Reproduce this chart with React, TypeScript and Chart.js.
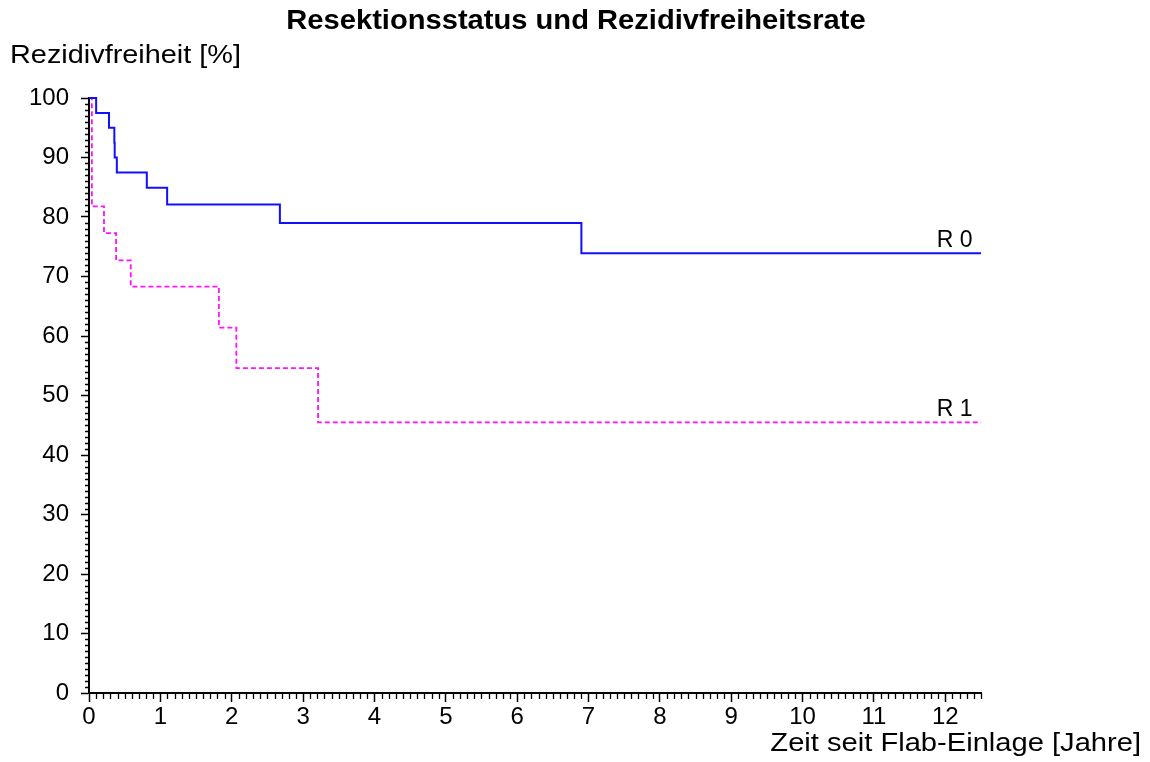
import { useEffect, useRef } from 'react';
import { Chart, registerables } from 'chart.js';

Chart.register(...registerables);

// Texts
const chartTitle = 'Resektionsstatus und Rezidivfreiheitsrate';
const yAxisTitle = 'Rezidivfreiheit [%]';
const xAxisTitle = 'Zeit seit Flab-Einlage [Jahre]';
const seriesNames = ['R 0', 'R 1'];

// Kaplan-Meier steps: event time (years) and recurrence-free rate (%) after the event
const r0Years = [0, 0.1, 0.28, 0.355, 0.36, 0.39, 0.81, 1.095, 2.675, 6.9, 12.5];
const r0Percent = [100, 97.5, 95, 92.5, 90, 87.5, 84.9, 82.1, 79.0, 73.9, 73.9];
const r1Years = [0, 0.04, 0.21, 0.38, 0.585, 1.82, 2.065, 3.21, 12.5];
const r1Percent = [100, 81.8, 77.3, 72.7, 68.3, 61.4, 54.6, 45.5, 45.5];

// Axis ranges and tick spacing
const xMax = 12.5;
const yMax = 100;
const xMajorStep = 1;
const xMinorStep = 0.1;
const yMajorStep = 10;
const yMinorStep = 1;
// where the curve names sit (year)
const seriesLabelYear = 11.88;

const FONT = '"Liberation Sans", Arial, Helvetica, sans-serif';

function drawText(
  ctx: CanvasRenderingContext2D,
  text: string,
  x: number,
  y: number,
  font: string,
  stretch: number,
  align: 'left' | 'center' | 'right'
) {
  ctx.save();
  ctx.font = font;
  ctx.textAlign = 'left';
  ctx.textBaseline = 'alphabetic';
  ctx.fillStyle = '#000';
  const w = ctx.measureText(text).width * stretch;
  let left = x;
  if (align === 'center') left = x - w / 2;
  if (align === 'right') left = x - w;
  ctx.translate(left, y);
  ctx.scale(stretch, 1);
  ctx.fillText(text, 0, 0);
  ctx.restore();
}

const decorPlugin = {
  id: 'kmDecor',
  afterDraw(chart: any) {
    const { ctx } = chart;
    const xs = chart.scales.x;
    const ys = chart.scales.y;
    ctx.save();
    ctx.strokeStyle = '#000';
    ctx.lineWidth = 1.3;
    ctx.beginPath();
    // minor ticks on the time axis
    const nx = Math.round(xMax / xMinorStep);
    const perMajorX = Math.round(xMajorStep / xMinorStep);
    for (let i = 1; i <= nx; i++) {
      if (i % perMajorX === 0) continue;
      const px = Math.round(xs.getPixelForValue(i * xMinorStep)) + 0.5;
      ctx.moveTo(px, ys.bottom);
      ctx.lineTo(px, ys.bottom + 6);
    }
    // minor ticks on the rate axis
    const ny = Math.round(yMax / yMinorStep);
    const perMajorY = Math.round(yMajorStep / yMinorStep);
    for (let i = 1; i < ny; i++) {
      if (i % perMajorY === 0) continue;
      const py = Math.round(ys.getPixelForValue(i * yMinorStep)) + 0.5;
      ctx.moveTo(xs.left - 4, py);
      ctx.lineTo(xs.left, py);
    }
    ctx.stroke();
    ctx.restore();

    // titles
    drawText(ctx, chartTitle, 576, 29, `bold 28px ${FONT}`, 1.04, 'center');
    drawText(ctx, yAxisTitle, 10, 63, `26px ${FONT}`, 1.11, 'left');
    drawText(ctx, xAxisTitle, 1141, 751, `26px ${FONT}`, 1.12, 'right');

    // curve names above the line ends
    const lx = xs.getPixelForValue(seriesLabelYear);
    drawText(ctx, seriesNames[0], lx, ys.getPixelForValue(r0Percent[r0Percent.length - 1]) - 6, `23px ${FONT}`, 1, 'left');
    drawText(ctx, seriesNames[1], lx, ys.getPixelForValue(r1Percent[r1Percent.length - 1]) - 6, `23px ${FONT}`, 1, 'left');
  },
};

export default function App() {
  const canvasRef = useRef<HTMLCanvasElement | null>(null);

  useEffect(() => {
    const canvas = canvasRef.current;
    if (!canvas) return;
    const chart = new Chart(canvas, {
      type: 'line',
      data: {
        datasets: [
          {
            label: seriesNames[0],
            data: r0Years.map((t, i) => ({ x: t, y: r0Percent[i] })),
            borderColor: '#1010ff',
            borderWidth: 2,
            stepped: 'before',
            pointRadius: 0,
            fill: false,
            clip: false as any,
          },
          {
            label: seriesNames[1],
            data: r1Years.map((t, i) => ({ x: t, y: r1Percent[i] })),
            borderColor: '#ff10ff',
            borderWidth: 1.8,
            borderDash: [5, 3],
            stepped: 'before',
            pointRadius: 0,
            fill: false,
            clip: false as any,
          },
        ],
      },
      options: {
        responsive: false,
        animation: false,
        layout: { padding: { left: 0, top: 98, right: 169, bottom: 0 } },
        plugins: {
          legend: { display: false },
          title: { display: false },
          tooltip: { enabled: false },
        },
        scales: {
          x: {
            type: 'linear',
            min: 0,
            max: xMax,
            afterFit: (s: any) => {
              s.height = 69;
            },
            ticks: {
              stepSize: xMajorStep,
              includeBounds: false,
              color: '#000',
              font: { family: FONT, size: 24 },
              padding: 1,
              maxRotation: 0,
              autoSkip: false,
            },
            grid: {
              drawOnChartArea: false,
              drawTicks: true,
              tickLength: 9,
              tickWidth: 1.5,
              tickColor: '#000',
            },
            border: { display: true, color: '#000', width: 2 },
          },
          y: {
            type: 'linear',
            min: 0,
            max: yMax,
            afterFit: (s: any) => {
              s.width = 89;
            },
            ticks: {
              stepSize: yMajorStep,
              color: '#000',
              font: { family: FONT, size: 24 },
              padding: 12,
              autoSkip: false,
            },
            grid: {
              drawOnChartArea: false,
              drawTicks: true,
              tickLength: 8,
              tickWidth: 1.5,
              tickColor: '#000',
            },
            border: { display: true, color: '#000', width: 2 },
          },
        },
      },
      plugins: [decorPlugin],
    });
    return () => chart.destroy();
  }, []);

  return (
    <div style={{ position: 'fixed', left: 0, top: 0, width: 1150, height: 762, background: '#fff' }}>
      <canvas ref={canvasRef} width={1150} height={762} style={{ display: 'block' }} />
    </div>
  );
}
